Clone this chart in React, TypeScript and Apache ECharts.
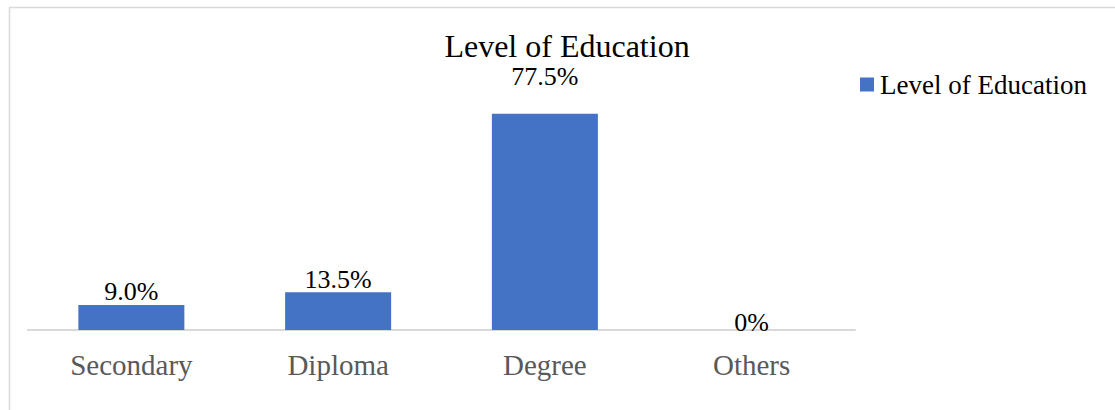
import React, { useEffect, useRef } from "react";
import * as echarts from "echarts";

const categories = ["Secondary", "Diploma", "Degree", "Others"];
const values = [9.0, 13.5, 77.5, 0];
const seriesName = "Level of Education";
const titleText = "Level of Education";

const FONT = "'Liberation Serif', 'Times New Roman', serif";

export default function App() {
  const ref = useRef<HTMLDivElement>(null);
  useEffect(() => {
    if (!ref.current) return;
    const chart = echarts.init(ref.current, undefined, { renderer: "svg" });
    const labelDistance = [0, 0, 24, -5];
    chart.setOption({
      animation: false,
      backgroundColor: "#ffffff",
      textStyle: { fontFamily: FONT },
      title: {
        text: titleText,
        left: 567,
        textAlign: "center",
        top: 30,
        padding: 0,
        textStyle: { fontFamily: FONT, fontSize: 32, fontWeight: "normal", color: "#000000" },
      },
      legend: {
        left: 860,
        top: 71,
        padding: 0,
        icon: "rect",
        itemWidth: 14,
        itemHeight: 14,
        itemGap: 10,
        textStyle: { fontFamily: FONT, fontSize: 27, color: "#000000", padding: [0, 0, 0, 1] },
        data: [seriesName],
      },
      graphic: [
        {
          type: "rect",
          shape: { x: 9.5, y: 7.5, width: 1200, height: 500 },
          style: { fill: "none", stroke: "#d9d9d9", lineWidth: 1.5 },
          silent: true,
        },
      ],
      grid: { left: 28, right: 260, bottom: 80, top: 79, containLabel: false },
      xAxis: {
        type: "category",
        data: categories,
        axisLine: { show: true, lineStyle: { color: "#d9d9d9", width: 2 } },
        axisTick: { show: false },
        axisLabel: { fontFamily: FONT, fontSize: 29, color: "#595959", margin: 20 },
      },
      yAxis: {
        type: "value",
        min: 0,
        max: 90,
        show: false,
        splitLine: { show: false },
      },
      series: [
        {
          name: seriesName,
          type: "bar",
          barWidth: 106,
          itemStyle: { color: "#4472C4" },
          label: {
            show: true,
            position: "top",
            distance: 0,
            fontFamily: FONT,
            fontSize: 26,
            color: "#000000",
            formatter: (p: any) => (p.value === 0 ? "0%" : Number(p.value).toFixed(1) + "%"),
          },
          data: values.map((v, i) => ({ value: v, label: { distance: labelDistance[i] } })),
        },
      ],
    });
    return () => chart.dispose();
  }, []);
  return (
    <div
      ref={ref}
      style={{ position: "absolute", left: 0, top: 0, width: 1115, height: 410 }}
    />
  );
}
